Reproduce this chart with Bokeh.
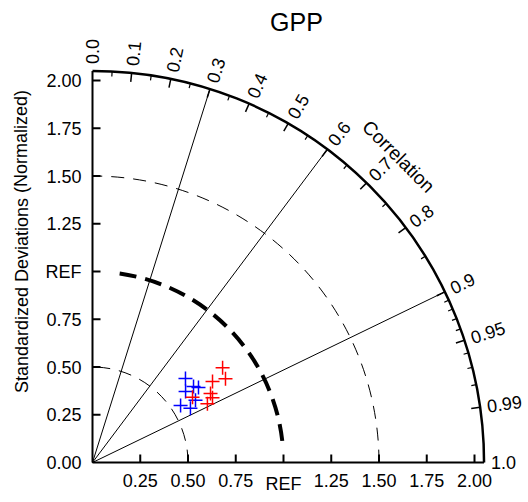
import numpy as np
from bokeh.plotting import figure
from bokeh.models import Range1d
from bokeh.core.properties import value
from bokeh.embed import file_html
from bokeh.resources import INLINE

# ---------------- data ----------------
title = "GPP"
blue_std = [0.656, 0.613, 0.662, 0.680, 0.630, 0.549, 0.586]
blue_corr = [0.742, 0.795, 0.799, 0.816, 0.856, 0.840, 0.875]
red_std = [0.843, 0.823, 0.758, 0.716, 0.714, 0.676, 0.625]
red_corr = [0.808, 0.846, 0.829, 0.863, 0.880, 0.890, 0.838]

std_ticks = [0.25, 0.50, 0.75, 1.00, 1.25, 1.50, 1.75, 2.00]
std_labels_y = ["0.00", "0.25", "0.50", "0.75", "REF", "1.25", "1.50", "1.75", "2.00"]
std_labels_x = ["0.25", "0.50", "0.75", "REF", "1.25", "1.50", "1.75", "2.00"]
corr_major = [0.0, 0.1, 0.2, 0.3, 0.4, 0.5, 0.6, 0.7, 0.8, 0.9, 0.95, 0.99, 1.0]
corr_major_labels = ["0.0", "0.1", "0.2", "0.3", "0.4", "0.5", "0.6", "0.7", "0.8", "0.9", "0.95", "0.99", "1.0"]
corr_minor = [0.05, 0.15, 0.25, 0.35, 0.45, 0.55, 0.65, 0.75, 0.85,
              0.91, 0.92, 0.93, 0.94, 0.96, 0.97, 0.98]
corr_lines = [0.3, 0.6, 0.9]
dashed_thin = [0.5, 1.5]
ref_std = 1.0
rmax = 2.05

# ---------------- figure ----------------
PX = 191.0  # pixels per unit
W, H = 528, 502
ox, oy = 92, 462
p = figure(width=W, height=H, output_backend="svg", toolbar_location=None,
           x_range=Range1d(-ox / PX, (W - ox) / PX),
           y_range=Range1d(-(H - oy) / PX, oy / PX),
           min_border=0, min_border_left=0, min_border_right=0,
           min_border_top=0, min_border_bottom=0)
p.xaxis.visible = False
p.yaxis.visible = False
p.xgrid.visible = False
p.ygrid.visible = False
p.outline_line_color = None
p.background_fill_color = "white"

FONT = value("Liberation Sans")
FS = "18px"
px = 1.0 / PX

# dashed std arcs
for r in dashed_thin:
    p.arc(x=0, y=0, radius=r, start_angle=0, end_angle=np.pi / 2,
          line_color="black", line_width=1, line_dash="13 9")
p.arc(x=0, y=0, radius=ref_std, start_angle=np.radians(6.5), end_angle=np.radians(83),
      line_color="black", line_width=4, line_dash="17 9")

# radial correlation lines
for c in corr_lines:
    t = np.arccos(c)
    p.line([0, rmax * np.cos(t)], [0, rmax * np.sin(t)], line_color="black", line_width=1)

# axes
p.line([0, rmax], [0, 0], line_color="black", line_width=2)
p.line([0, 0], [0, rmax], line_color="black", line_width=2)
p.arc(x=0, y=0, radius=rmax, start_angle=0, end_angle=np.pi / 2,
      line_color="black", line_width=2.5)

# std ticks (inward)
tl = 8 * px
p.segment(x0=[0] * len(std_ticks), y0=std_ticks, x1=[tl] * len(std_ticks), y1=std_ticks,
          line_color="black", line_width=2)
p.segment(x0=std_ticks, y0=[0] * len(std_ticks), x1=std_ticks, y1=[tl] * len(std_ticks),
          line_color="black", line_width=2)

# std tick labels
p.text(x=[-11 * px] * 9, y=[0.0] + std_ticks, text=std_labels_y,
       text_font=FONT, text_font_size=FS, text_align="right", text_baseline="middle")
p.text(x=std_ticks, y=[-11 * px] * len(std_ticks), text=std_labels_x,
       text_font=FONT, text_font_size=FS, text_align="center", text_baseline="top")

# correlation ticks on outer arc
def arc_ticks(vals, length, lw):
    t = np.arccos(np.array(vals))
    r0 = rmax
    r1 = rmax - length
    p.segment(x0=r0 * np.cos(t), y0=r0 * np.sin(t), x1=r1 * np.cos(t), y1=r1 * np.sin(t),
              line_color="black", line_width=lw)

arc_ticks([c for c in corr_major if 0 < c < 1], 9 * px, 1.5)
arc_ticks(corr_minor, 5 * px, 1.2)

# correlation labels
tl_ = np.arccos(np.array(corr_major))
rl = rmax + 7 * px
p.text(x=list(rl * np.cos(tl_)), y=list(rl * np.sin(tl_)), text=corr_major_labels,
       angle=list(tl_), text_font=FONT, text_font_size=FS,
       text_align="left", text_baseline="middle")

# Correlation title
rc = 2.266
p.text(x=[rc * np.cos(np.pi / 4)], y=[rc * np.sin(np.pi / 4)], text=["Correlation"],
       angle=[-np.radians(45)], text_font=FONT, text_font_size="19px",
       text_align="center", text_baseline="middle")

# y axis title
p.text(x=[(21 - ox) * px], y=[(oy - 241) * px], text=["Standardized Deviations (Normalized)"],
       angle=[np.pi / 2], text_font=FONT, text_font_size=FS,
       text_align="center", text_baseline="middle")

# main title
p.text(x=[(296 - ox) * px], y=[(oy - 21) * px], text=[title],
       text_font=FONT, text_font_size="25px", text_align="center", text_baseline="middle")

# data points
bt = np.arccos(np.array(blue_corr))
rt = np.arccos(np.array(red_corr))
p.scatter(x=np.array(blue_std) * np.cos(bt), y=np.array(blue_std) * np.sin(bt),
          marker="cross", size=14, line_color="blue", line_width=1.5)
p.scatter(x=np.array(red_std) * np.cos(rt), y=np.array(red_std) * np.sin(rt),
          marker="cross", size=14, line_color="red", line_width=1.5)

open("out.html", "w").write(file_html(p, INLINE))
